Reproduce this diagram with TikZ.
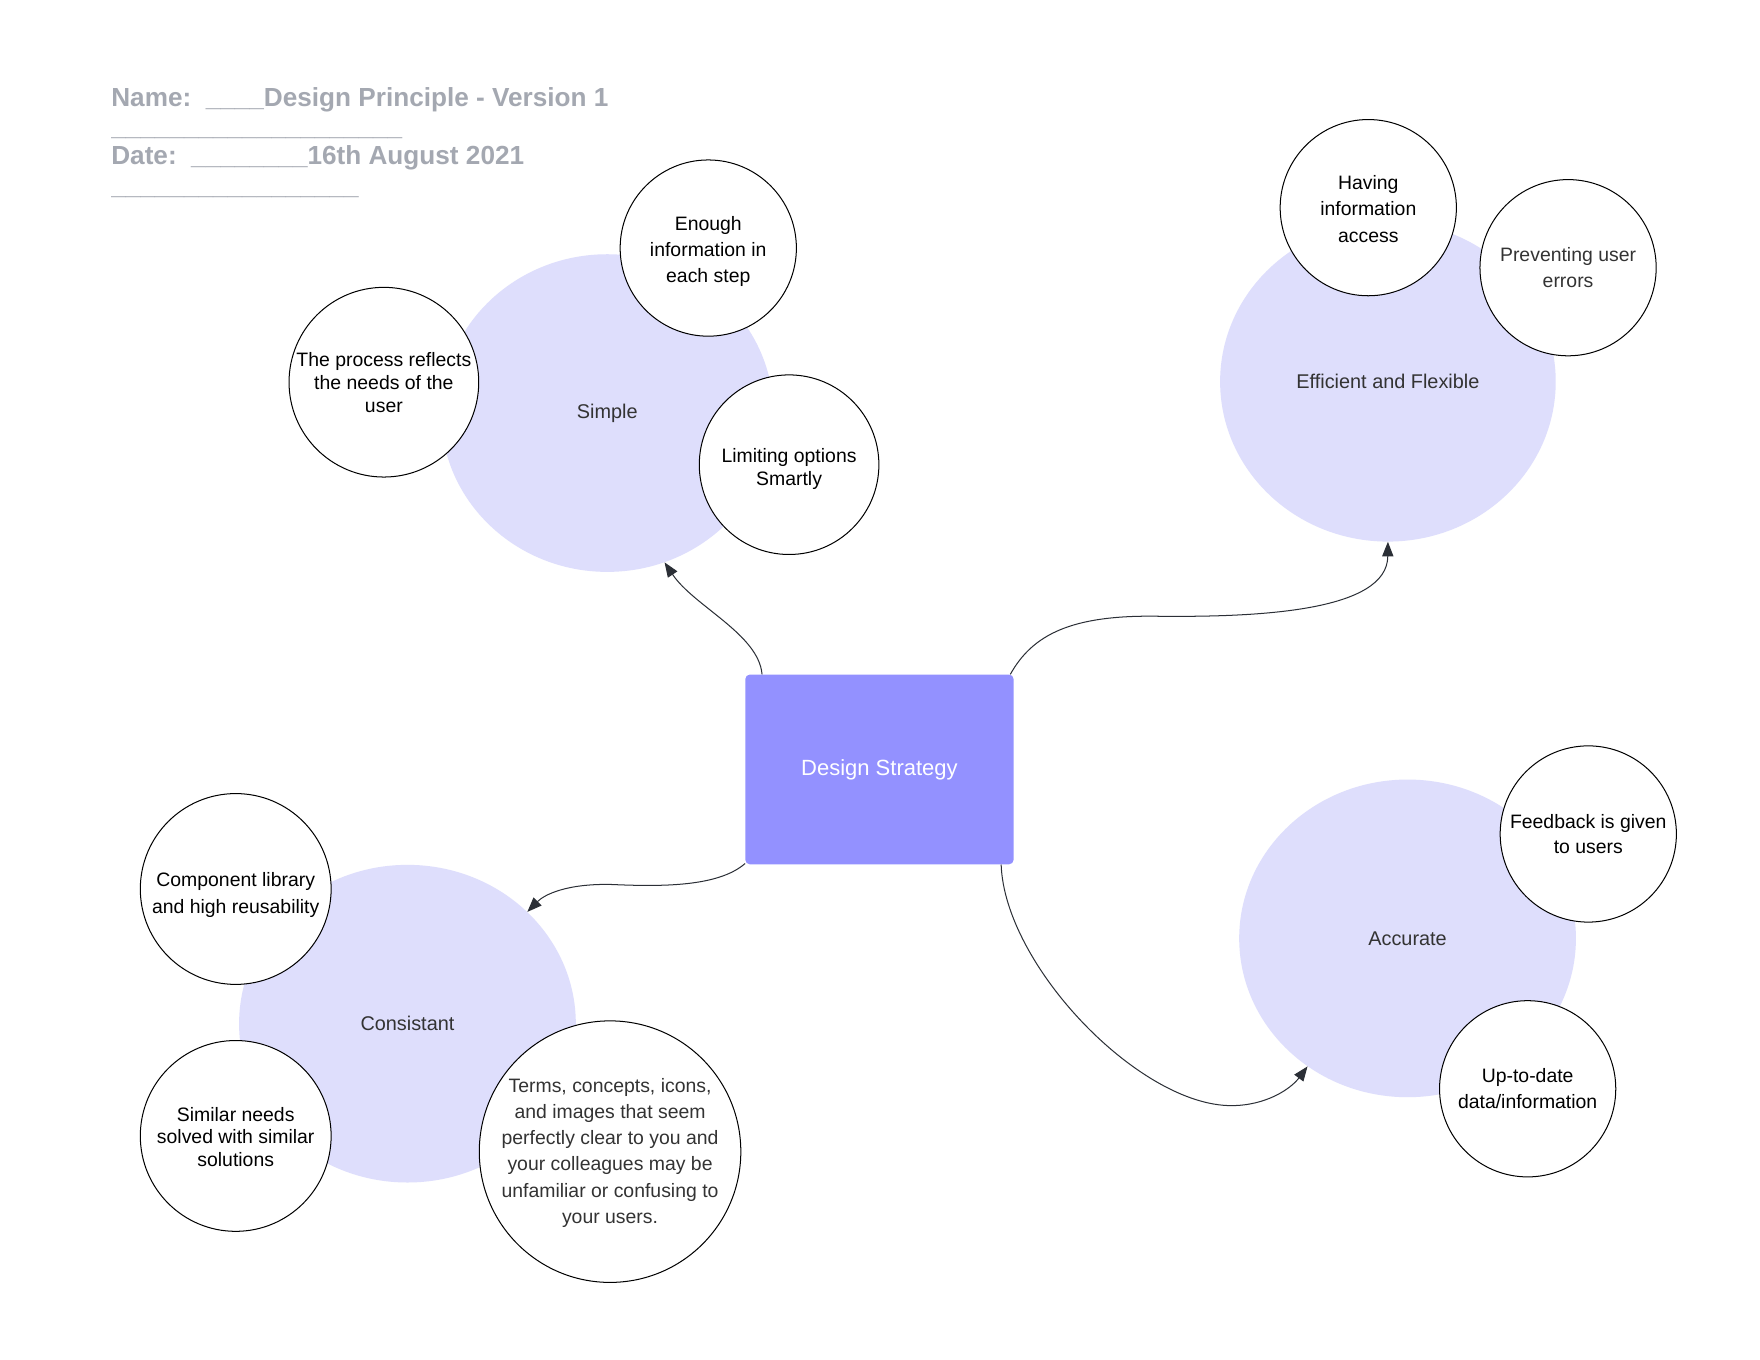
\documentclass[tikz,border=0pt]{standalone}
\usepackage{fontspec}
\setmainfont{Liberation Sans}
\usetikzlibrary{shapes.geometric,arrows.meta}
\definecolor{lav}{HTML}{DEDEFC}
\definecolor{boxc}{HTML}{9391FF}
\definecolor{ttl}{HTML}{A4A8B1}
\definecolor{dk}{HTML}{2B2F36}
\definecolor{txt}{HTML}{333333}
\begin{document}
\begin{tikzpicture}[x=1pt,y=-1pt,
  bubble/.style={ellipse, fill=lav, draw=none, minimum width=300, minimum height=283, inner sep=0pt},
  wc/.style={circle, fill=white, draw=black, line width=0.9pt, inner sep=0pt},
  ctext/.style={align=center, text=black, inner sep=0pt, font=\fontsize{17.3}{#1}\selectfont},
  ctext/.default=23.5,
  lbl/.style={text=txt, inner sep=0pt, font=\fontsize{17.7}{21}\selectfont},
  ttltext/.style={anchor=base west, text=ttl, inner sep=0pt, font=\fontsize{23.3}{26}\selectfont\bfseries},
  conn/.style={draw=dk, line width=0.9pt, -{Triangle[length=13pt,width=10pt]}},
  centre/.style={rectangle, rounded corners=4pt, fill=boxc, draw=none, minimum width=239, minimum height=169, inner sep=0pt, text=white, font=\fontsize{19.6}{23}\selectfont}
]
\fill[white] (0,0) rectangle (1568,1211.6);
\useasboundingbox (0,0) rectangle (1568,1211.6);

% title
\node[ttltext] (tname) at (99,94.5) {Name:\ \ \_\_\_\_Design Principle - Version 1};
\node[ttltext] (tl1) at (99,120.7) {\_\_\_\_\_\_\_\_\_\_\_\_\_\_\_\_\_\_\_\_};
\node[ttltext] (tdate) at (99,146.9) {Date:\ \ \_\_\_\_\_\_\_\_16th August 2021};
\node[ttltext] (tl2) at (99,173.1) {\_\_\_\_\_\_\_\_\_\_\_\_\_\_\_\_\_};

% lavender bubbles
\node[bubble, minimum width=296, minimum height=283] (simple) at (541,368) {};
\node[bubble, minimum width=299, minimum height=285] (eff) at (1236.5,340) {};
\node[bubble] (acc) at (1254,836) {};
\node[bubble] (con) at (363,912) {};
\node[lbl] (lsimple) at (simple) {Simple};
\node[lbl] (leff) at (eff) {Efficient and Flexible};
\node[lbl] (lacc) at (acc) {Accurate};
\node[lbl] (lcon) at (con) {Consistant};

% centre box
\node[centre] (box) at (783.5,685.5) {Design Strategy};

% connectors
\draw[conn] (box.141.8) .. controls (676,565) and (618,540) .. (simple.-69);
\draw[conn] (box.36.2) .. controls (920,565) and (955,548) .. (1030,549)
   .. controls (1120,550) and (1236,545) .. (eff.south);
\draw[conn] (box.215.1) .. controls (640,790) and (590,790) .. (545,788)
   .. controls (505,787) and (485,797) .. (con.43.1);
\draw[conn] (box.322.8) .. controls (895,860) and (1015,985) .. (1097,985)
   .. controls (1128,985) and (1150,970) .. (acc.232.5);

% white circles
\node[wc, minimum size=157] (c1) at (631,221) {};
\node[wc, minimum size=169] (c2) at (342,340.5) {};
\node[wc, minimum size=160] (c3) at (703,414) {};
\node[wc, minimum size=157] (c4) at (1219,185) {};
\node[wc, minimum size=157] (c5) at (1397,238.5) {};
\node[wc, minimum size=157] (c6) at (1415,743) {};
\node[wc, minimum size=157] (c7) at (1361,970) {};
\node[wc, minimum size=170] (c8) at (210,792) {};
\node[wc, minimum size=170] (c9) at (210,1012) {};
\node[wc, minimum size=233] (c10) at (543.5,1026) {};

\node[ctext] (t1) at ([yshift=-3pt]c1.center) {Enough\\information in\\each step};
\node[ctext=20.5] (t2) at (c2) {The process reflects\\the needs of the\\user};
\node[ctext=20] (t3) at ([yshift=-4pt]c3.center) {Limiting options\\Smartly};
\node[ctext] (t4) at ([yshift=-1pt]c4.center) {Having\\information\\access};
\node[ctext, text=txt] (t5) at (c5) {Preventing user\\errors};
\node[ctext=23] (t6) at (c6) {Feedback is given\\to users};
\node[ctext=23] (t7) at (c7) {Up-to-date\\data/information};
\node[ctext=24] (t8) at ([yshift=-5pt]c8.center) {Component library\\and high reusability};
\node[ctext=20] (t9) at ([yshift=-1pt]c9.center) {Similar needs\\solved with similar\\solutions};
\node[ctext=23.4, text=txt] (t10) at ([yshift=-1pt]c10.center) {Terms, concepts, icons,\\and images that seem\\perfectly clear to you and\\your colleagues may be\\unfamiliar or confusing to\\your users.};
\end{tikzpicture}
\end{document}
